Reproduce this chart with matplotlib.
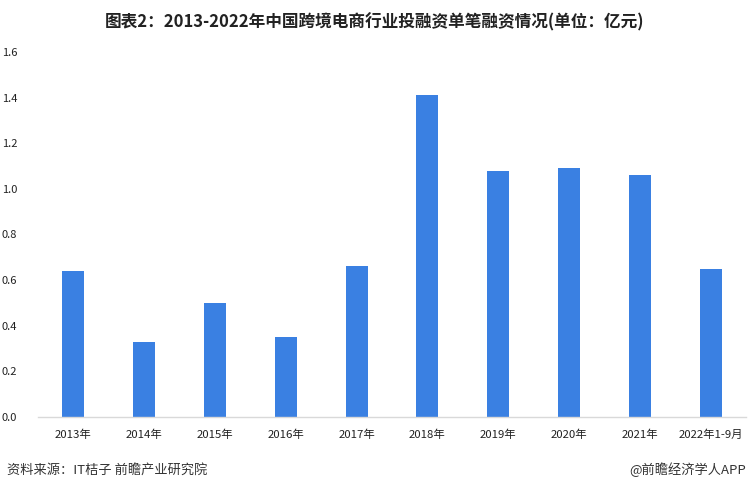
import matplotlib
matplotlib.use("Agg")
import matplotlib.pyplot as plt

plt.rcParams['font.family'] = ['Noto Sans CJK SC', 'DejaVu Sans']

categories = ["2013年", "2014年", "2015年", "2016年", "2017年", "2018年",
              "2019年", "2020年", "2021年", "2022年1-9月"]
values = [0.64, 0.33, 0.50, 0.35, 0.66, 1.41, 1.08, 1.09, 1.06, 0.65]
yticks = [0.0, 0.2, 0.4, 0.6, 0.8, 1.0, 1.2, 1.4, 1.6]

title = "图表2：2013-2022年中国跨境电商行业投融资单笔融资情况(单位：亿元)"
source = "资料来源：IT桔子 前瞻产业研究院"
credit = "@前瞻经济学人APP"

W, H = 750, 492
fig = plt.figure(figsize=(W / 100, H / 100), dpi=100)
ax = fig.add_axes([38 / W, 1 - 417 / H, (746 - 38) / W, (417 - 52) / H])

x = range(len(categories))
ax.bar(x, values, width=0.31, color="#3A80E2", zorder=2)

ax.set_xlim(-0.5, len(categories) - 0.5)
ax.set_ylim(0, 1.6)
ax.set_yticks(yticks)
ax.set_yticklabels([f"{v:.1f}" for v in yticks], fontsize=8, color="#222222")
ax.set_xticks(list(x))
ax.set_xticklabels(categories, fontsize=8.2, color="#222222")
ax.tick_params(axis='both', length=0)
ax.tick_params(axis='y', pad=26)
ax.tick_params(axis='x', pad=9)
for lab in ax.get_yticklabels():
    lab.set_horizontalalignment('left')
for s in ["top", "right", "left"]:
    ax.spines[s].set_visible(False)
ax.spines["bottom"].set_color("#D9D9D9")
ax.spines["bottom"].set_linewidth(1.0)

fig.text(375 / W, 1 - 22 / H, title, ha="center", va="center",
         fontsize=12, fontweight="bold", color="#222222")
fig.text(7 / W, 1 - 470 / H, source, ha="left", va="center",
         fontsize=9.5, color="#333333")
fig.text(746 / W, 1 - 470 / H, credit, ha="right", va="center",
         fontsize=9.5, color="#333333")

fig.savefig("out.png", dpi=100)
